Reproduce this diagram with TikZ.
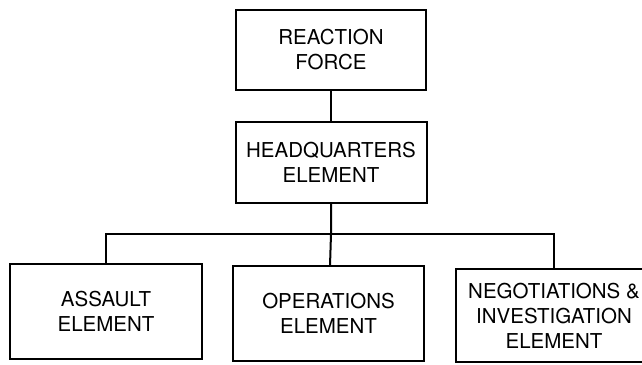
\documentclass[tikz,border=0pt]{standalone}
\usepackage{fontspec}
\setmainfont{TeX Gyre Heros}
\usepackage{tikz}
\usetikzlibrary{positioning}

\begin{document}
\begin{tikzpicture}[x = 1pt, y = 1pt,
    unit/.style = {draw, line width = 2pt, align = center, inner sep = 0pt, outer sep = 0pt,
                   font = \fontsize{20.5}{25}\selectfont},
    link/.style = {line width = 2pt}]
  \useasboundingbox (0,0) rectangle (642,-364);

  \node[unit, minimum width = 190pt, minimum height = 80pt] (force) at (331,-50) {REACTION\\FORCE};
  \node[unit, minimum width = 191pt, minimum height = 81pt, below = 32pt of force] (hq) {HEADQUARTERS\\ELEMENT};

  \node[unit, minimum width = 191pt, minimum height = 95pt] (ops) at (328.5,-313.5) {OPERATIONS\\ELEMENT};
  \node[unit, minimum width = 192pt, minimum height = 95pt, left = 31pt of ops, yshift = 2pt] (assault) {ASSAULT\\ELEMENT};
  \node[unit, minimum width = 196pt, minimum height = 93pt, right = 32pt of ops, yshift = -2pt] (negot) {NEGOTIATIONS \&\\INVESTIGATION\\ELEMENT};

  \coordinate[below = 31pt of hq] (bus);

  \draw[link] (force) -- (hq);
  \draw[link] (hq) -- (bus) -- (ops);
  \draw[link] (assault) -- (assault |- bus) -- (negot |- bus) -- (negot);
\end{tikzpicture}
\end{document}
